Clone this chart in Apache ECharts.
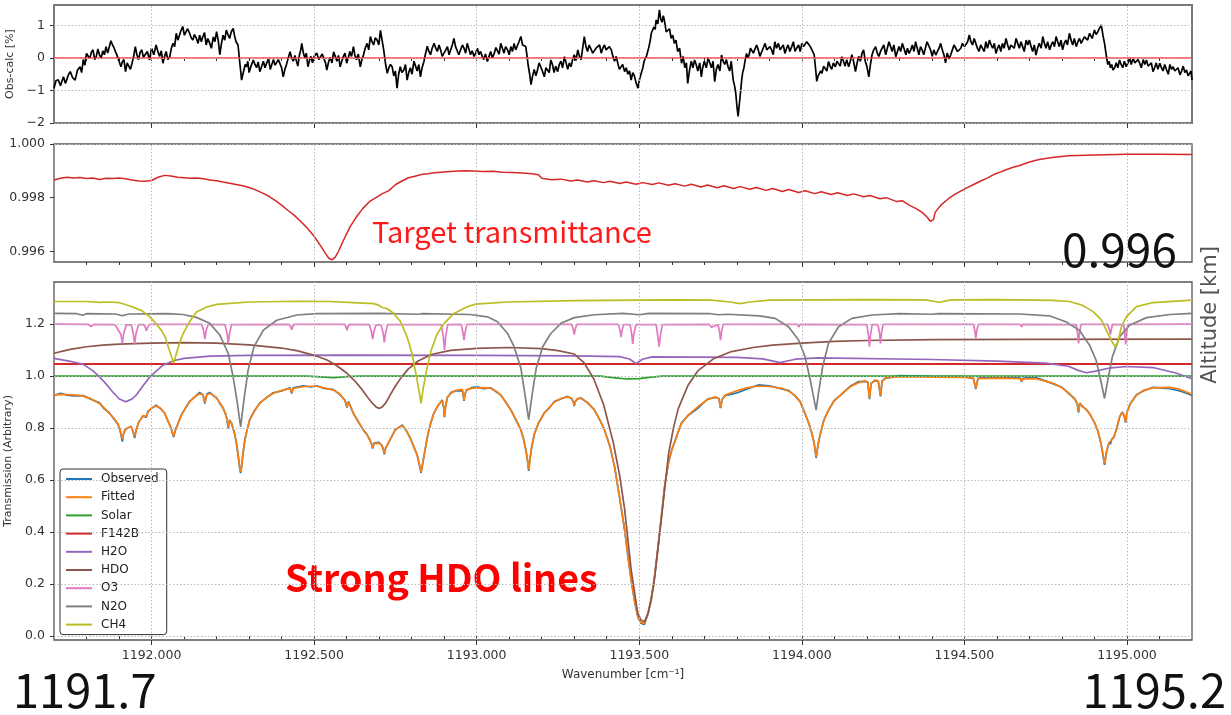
<!DOCTYPE html>
<html><head><meta charset="utf-8">
<script src="https://cdn.jsdelivr.net/npm/echarts@6/dist/echarts.min.js"></script>
<style>html,body{margin:0;padding:0;background:#fff}#c{width:1231px;height:715px}</style>
</head><body><div id="c"></div>
<script>
const xMin = 1191.7, xMax = 1195.2;
const xMajorTicks = [1192.0,1192.5,1193.0,1193.5,1194.0,1194.5,1195.0];
const xMinorTicks = [1191.8,1191.9,1192.0,1192.1,1192.2,1192.3,1192.4,1192.5,1192.6,1192.7,1192.8,1192.9,1193.0,1193.1,1193.2,1193.3,1193.4,1193.5,1193.6,1193.7,1193.8,1193.9,1194.0,1194.1,1194.2,1194.3,1194.4,1194.5,1194.6,1194.7,1194.8,1194.9,1195.0,1195.1];
const residTicks = [-2,-1,0,1];
const transTicks = [0.996,0.998,1.0];
const specTicks = [0,0.2,0.4,0.6,0.8,1.0,1.2];
const seriesNames = ['Observed','Fitted','Solar','F142B','H2O','HDO','O3','N2O','CH4'];

const residual = [[1191.700,-0.93],[1191.706,-0.70],[1191.713,-0.67],[1191.720,-0.85],[1191.729,-0.58],[1191.735,-0.78],[1191.740,-0.72],[1191.745,-0.50],[1191.750,-0.42],[1191.757,-0.60],[1191.765,-0.68],[1191.772,-0.38],[1191.780,-0.27],[1191.785,-0.45],[1191.790,-0.05],[1191.795,-0.22],[1191.800,0.14],[1191.805,0.20],[1191.810,-0.02],[1191.815,0.18],[1191.820,0.25],[1191.825,-0.05],[1191.830,0.05],[1191.835,0.28],[1191.840,0.09],[1191.845,0.00],[1191.850,0.22],[1191.855,0.10],[1191.860,0.35],[1191.865,0.15],[1191.870,0.20],[1191.875,0.53],[1191.880,0.40],[1191.885,0.30],[1191.890,0.25],[1191.895,0.05],[1191.900,-0.10],[1191.906,-0.27],[1191.910,-0.12],[1191.915,-0.05],[1191.920,-0.42],[1191.925,-0.15],[1191.930,-0.20],[1191.935,-0.35],[1191.940,-0.16],[1191.945,0.05],[1191.950,0.35],[1191.955,0.10],[1191.960,-0.05],[1191.965,0.18],[1191.970,0.25],[1191.975,0.02],[1191.980,0.00],[1191.987,0.20],[1191.994,-0.06],[1192.000,0.30],[1192.007,0.10],[1192.014,0.40],[1192.020,0.18],[1192.025,0.05],[1192.030,0.22],[1192.035,-0.16],[1192.040,0.05],[1192.045,0.20],[1192.050,-0.05],[1192.056,0.04],[1192.061,0.30],[1192.066,0.45],[1192.071,0.35],[1192.076,0.76],[1192.081,0.55],[1192.086,0.60],[1192.091,0.85],[1192.096,0.97],[1192.101,0.70],[1192.106,0.75],[1192.111,0.90],[1192.117,0.76],[1192.122,0.62],[1192.127,0.55],[1192.132,0.72],[1192.138,0.60],[1192.143,0.45],[1192.148,0.70],[1192.153,0.50],[1192.158,0.66],[1192.163,0.78],[1192.168,0.40],[1192.173,0.60],[1192.179,0.45],[1192.184,0.30],[1192.190,0.65],[1192.195,0.50],[1192.200,0.81],[1192.205,0.55],[1192.210,0.10],[1192.215,0.45],[1192.220,0.70],[1192.225,0.55],[1192.230,0.86],[1192.235,0.72],[1192.240,0.60],[1192.245,0.80],[1192.251,0.91],[1192.256,0.65],[1192.260,0.50],[1192.266,0.40],[1192.272,-0.20],[1192.277,-0.68],[1192.281,-0.50],[1192.285,-0.45],[1192.288,-0.20],[1192.292,-0.27],[1192.296,-0.10],[1192.300,-0.45],[1192.306,-0.25],[1192.313,-0.06],[1192.318,-0.20],[1192.323,-0.30],[1192.328,-0.12],[1192.333,-0.42],[1192.338,-0.28],[1192.344,-0.10],[1192.349,-0.30],[1192.354,-0.16],[1192.360,-0.02],[1192.365,-0.35],[1192.370,-0.20],[1192.375,-0.05],[1192.380,-0.22],[1192.385,-0.27],[1192.390,-0.05],[1192.395,-0.10],[1192.400,-0.30],[1192.405,-0.58],[1192.410,-0.35],[1192.415,-0.20],[1192.420,-0.02],[1192.426,0.19],[1192.431,0.00],[1192.436,-0.10],[1192.441,0.08],[1192.446,-0.11],[1192.450,-0.25],[1192.455,0.10],[1192.459,0.25],[1192.462,0.45],[1192.467,0.15],[1192.472,0.00],[1192.476,0.15],[1192.481,-0.27],[1192.485,-0.10],[1192.490,0.05],[1192.495,-0.15],[1192.500,0.05],[1192.508,0.15],[1192.514,-0.05],[1192.520,-0.10],[1192.525,0.12],[1192.530,0.10],[1192.535,-0.15],[1192.539,-0.37],[1192.545,-0.10],[1192.550,0.00],[1192.555,-0.15],[1192.560,0.19],[1192.565,0.05],[1192.570,-0.10],[1192.575,0.08],[1192.580,-0.27],[1192.585,-0.10],[1192.590,0.05],[1192.595,0.15],[1192.600,-0.16],[1192.605,0.00],[1192.610,0.20],[1192.615,0.05],[1192.621,0.35],[1192.625,0.10],[1192.630,-0.05],[1192.636,0.12],[1192.642,-0.27],[1192.647,-0.05],[1192.652,0.10],[1192.657,0.30],[1192.663,0.45],[1192.668,0.25],[1192.673,0.66],[1192.678,0.50],[1192.683,0.40],[1192.688,0.62],[1192.694,0.55],[1192.699,0.40],[1192.704,0.85],[1192.709,0.55],[1192.714,0.25],[1192.720,-0.20],[1192.725,-0.47],[1192.730,-0.30],[1192.735,-0.20],[1192.740,-0.27],[1192.745,-0.55],[1192.750,-0.40],[1192.755,-0.93],[1192.760,-0.50],[1192.765,-0.27],[1192.770,-0.45],[1192.776,-0.37],[1192.781,-0.20],[1192.786,-0.68],[1192.791,-0.45],[1192.796,-0.30],[1192.801,-0.50],[1192.807,-0.10],[1192.812,-0.25],[1192.817,-0.40],[1192.822,-0.20],[1192.827,-0.58],[1192.832,-0.30],[1192.838,-0.10],[1192.843,0.15],[1192.848,0.36],[1192.853,0.20],[1192.858,0.10],[1192.863,0.30],[1192.869,0.45],[1192.874,0.30],[1192.879,0.20],[1192.884,0.40],[1192.889,0.25],[1192.894,0.05],[1192.900,0.10],[1192.905,0.25],[1192.910,0.35],[1192.915,0.10],[1192.920,0.15],[1192.925,0.40],[1192.930,0.60],[1192.935,0.35],[1192.940,0.30],[1192.945,0.10],[1192.951,0.15],[1192.956,0.40],[1192.961,0.30],[1192.966,0.15],[1192.971,0.45],[1192.976,0.28],[1192.981,0.10],[1192.986,0.22],[1192.992,0.05],[1192.997,0.15],[1193.002,0.30],[1193.007,0.10],[1193.012,0.20],[1193.017,0.05],[1193.022,-0.05],[1193.027,0.12],[1193.033,-0.11],[1193.038,0.05],[1193.043,0.20],[1193.048,0.00],[1193.054,0.14],[1193.059,0.32],[1193.064,0.30],[1193.069,0.12],[1193.074,0.45],[1193.079,0.30],[1193.084,0.15],[1193.089,0.35],[1193.095,0.25],[1193.100,0.10],[1193.105,0.35],[1193.110,0.20],[1193.115,0.45],[1193.120,0.25],[1193.125,0.30],[1193.130,0.50],[1193.136,0.66],[1193.141,0.40],[1193.146,0.45],[1193.151,0.35],[1193.155,0.05],[1193.158,-0.20],[1193.163,-0.50],[1193.167,-0.82],[1193.172,-0.55],[1193.177,-0.35],[1193.182,-0.55],[1193.187,-0.37],[1193.192,-0.15],[1193.197,-0.20],[1193.202,-0.40],[1193.208,-0.58],[1193.213,-0.30],[1193.218,-0.25],[1193.223,-0.45],[1193.228,-0.06],[1193.233,-0.20],[1193.238,-0.45],[1193.243,-0.25],[1193.249,-0.42],[1193.254,-0.20],[1193.259,-0.10],[1193.264,-0.30],[1193.270,0.04],[1193.275,-0.15],[1193.280,-0.35],[1193.285,-0.15],[1193.290,-0.27],[1193.295,-0.05],[1193.300,0.10],[1193.305,-0.08],[1193.311,0.25],[1193.316,0.05],[1193.321,-0.05],[1193.326,0.30],[1193.331,0.66],[1193.336,0.35],[1193.341,0.20],[1193.346,0.40],[1193.352,0.35],[1193.357,0.15],[1193.362,0.10],[1193.367,0.30],[1193.373,0.25],[1193.378,0.40],[1193.383,0.15],[1193.388,0.30],[1193.393,0.40],[1193.398,0.25],[1193.403,0.20],[1193.408,0.35],[1193.414,0.25],[1193.419,0.05],[1193.424,-0.10],[1193.429,0.05],[1193.434,-0.16],[1193.439,-0.35],[1193.444,-0.30],[1193.449,-0.20],[1193.455,-0.42],[1193.460,-0.30],[1193.465,-0.50],[1193.470,-0.40],[1193.475,-0.68],[1193.480,-0.45],[1193.485,-0.55],[1193.490,-0.75],[1193.496,-0.93],[1193.501,-0.65],[1193.506,-0.47],[1193.511,-0.30],[1193.515,-0.10],[1193.519,-0.15],[1193.522,0.05],[1193.526,0.20],[1193.530,0.35],[1193.534,0.55],[1193.537,0.76],[1193.541,0.70],[1193.545,0.95],[1193.549,0.88],[1193.552,1.17],[1193.557,1.05],[1193.562,1.48],[1193.566,1.20],[1193.570,1.10],[1193.574,1.30],[1193.577,1.17],[1193.583,0.80],[1193.588,0.76],[1193.593,0.90],[1193.598,0.60],[1193.603,0.70],[1193.608,0.45],[1193.613,0.55],[1193.618,0.20],[1193.624,0.30],[1193.630,-0.16],[1193.635,0.05],[1193.640,-0.30],[1193.645,-0.15],[1193.649,-0.78],[1193.655,-0.35],[1193.660,-0.10],[1193.665,-0.30],[1193.670,-0.06],[1193.675,-0.20],[1193.680,-0.40],[1193.686,-0.15],[1193.691,-0.58],[1193.695,-0.30],[1193.700,-0.10],[1193.706,-0.30],[1193.712,0.00],[1193.717,-0.15],[1193.722,-0.30],[1193.727,-0.10],[1193.732,-0.73],[1193.737,-0.35],[1193.742,-0.20],[1193.748,-0.40],[1193.753,0.09],[1193.758,-0.10],[1193.763,-0.20],[1193.768,-0.05],[1193.773,-0.27],[1193.778,-0.40],[1193.783,-0.10],[1193.789,-0.68],[1193.793,-0.85],[1193.797,-1.10],[1193.800,-1.45],[1193.804,-1.80],[1193.807,-1.50],[1193.810,-1.20],[1193.815,-0.68],[1193.818,-0.45],[1193.822,-0.30],[1193.826,-0.05],[1193.830,0.14],[1193.834,0.00],[1193.838,0.10],[1193.842,0.30],[1193.846,0.35],[1193.851,0.15],[1193.856,0.20],[1193.861,0.40],[1193.866,0.25],[1193.871,0.05],[1193.876,0.10],[1193.881,0.30],[1193.887,0.45],[1193.892,0.25],[1193.897,0.20],[1193.902,0.35],[1193.907,0.25],[1193.912,0.10],[1193.917,0.50],[1193.922,0.30],[1193.928,0.45],[1193.933,0.25],[1193.938,0.20],[1193.943,0.40],[1193.948,0.14],[1193.953,0.30],[1193.958,0.40],[1193.963,0.20],[1193.969,0.35],[1193.974,0.50],[1193.979,0.20],[1193.984,0.30],[1193.990,0.40],[1193.995,0.20],[1194.000,0.45],[1194.005,0.35],[1194.010,0.30],[1194.015,0.50],[1194.020,0.55],[1194.026,0.35],[1194.031,0.25],[1194.035,0.30],[1194.038,0.10],[1194.042,-0.30],[1194.046,-0.72],[1194.050,-0.55],[1194.054,-0.60],[1194.058,-0.40],[1194.062,-0.47],[1194.067,-0.25],[1194.072,-0.20],[1194.077,-0.40],[1194.082,-0.11],[1194.087,-0.25],[1194.092,-0.35],[1194.097,-0.15],[1194.103,-0.27],[1194.108,-0.10],[1194.113,-0.05],[1194.118,-0.25],[1194.123,0.04],[1194.128,-0.10],[1194.133,-0.25],[1194.138,-0.05],[1194.144,-0.27],[1194.149,-0.10],[1194.154,0.10],[1194.159,-0.10],[1194.165,-0.42],[1194.170,-0.15],[1194.175,0.05],[1194.180,-0.10],[1194.185,0.14],[1194.190,0.25],[1194.195,-0.10],[1194.200,-0.25],[1194.206,-0.58],[1194.211,-0.20],[1194.216,0.10],[1194.221,0.25],[1194.227,0.35],[1194.232,0.15],[1194.237,0.05],[1194.242,0.20],[1194.247,0.25],[1194.252,0.40],[1194.258,0.10],[1194.263,0.30],[1194.268,0.50],[1194.273,0.35],[1194.278,0.20],[1194.283,0.40],[1194.289,0.04],[1194.294,0.20],[1194.299,0.35],[1194.304,0.20],[1194.309,0.45],[1194.314,0.30],[1194.320,0.10],[1194.325,0.30],[1194.330,0.14],[1194.335,0.25],[1194.340,0.40],[1194.345,0.20],[1194.350,0.50],[1194.355,0.30],[1194.360,0.10],[1194.365,0.35],[1194.370,0.25],[1194.375,0.10],[1194.380,0.30],[1194.385,0.50],[1194.391,0.45],[1194.396,0.25],[1194.401,0.05],[1194.406,0.25],[1194.412,0.09],[1194.417,0.20],[1194.422,0.30],[1194.427,0.45],[1194.432,0.25],[1194.437,0.10],[1194.442,-0.15],[1194.447,0.15],[1194.453,-0.03],[1194.458,0.10],[1194.463,0.25],[1194.468,0.40],[1194.474,0.35],[1194.479,0.20],[1194.484,0.15],[1194.489,0.30],[1194.494,0.45],[1194.500,0.35],[1194.505,0.30],[1194.510,0.50],[1194.515,0.71],[1194.520,0.50],[1194.525,0.40],[1194.530,0.60],[1194.535,0.45],[1194.540,0.30],[1194.545,0.20],[1194.550,0.40],[1194.556,0.35],[1194.561,0.20],[1194.566,0.50],[1194.571,0.30],[1194.577,0.55],[1194.582,0.40],[1194.587,0.30],[1194.592,0.45],[1194.597,0.14],[1194.602,0.30],[1194.607,0.40],[1194.612,0.20],[1194.617,0.45],[1194.622,0.30],[1194.628,0.60],[1194.633,0.40],[1194.638,0.25],[1194.643,0.40],[1194.648,0.45],[1194.653,0.30],[1194.659,0.60],[1194.664,0.45],[1194.669,0.30],[1194.674,0.50],[1194.679,0.35],[1194.684,0.20],[1194.690,0.55],[1194.695,0.40],[1194.700,0.55],[1194.705,0.35],[1194.710,0.20],[1194.715,0.40],[1194.720,0.09],[1194.725,0.30],[1194.730,0.45],[1194.736,0.30],[1194.741,0.66],[1194.746,0.45],[1194.751,0.30],[1194.756,0.50],[1194.762,0.25],[1194.767,0.40],[1194.772,0.50],[1194.777,0.35],[1194.782,0.66],[1194.787,0.50],[1194.792,0.35],[1194.797,0.55],[1194.802,0.25],[1194.807,0.45],[1194.812,0.55],[1194.817,0.40],[1194.823,0.76],[1194.828,0.55],[1194.833,0.40],[1194.838,0.60],[1194.844,0.35],[1194.849,0.50],[1194.854,0.60],[1194.859,0.45],[1194.864,0.50],[1194.869,0.65],[1194.874,0.70],[1194.879,0.55],[1194.885,0.76],[1194.889,0.70],[1194.893,0.60],[1194.897,0.75],[1194.900,0.86],[1194.905,0.72],[1194.910,0.80],[1194.915,0.90],[1194.921,1.02],[1194.926,0.70],[1194.931,0.45],[1194.936,0.10],[1194.941,-0.20],[1194.945,-0.10],[1194.949,-0.30],[1194.953,-0.20],[1194.957,-0.37],[1194.962,-0.30],[1194.967,-0.15],[1194.972,-0.30],[1194.977,-0.06],[1194.982,-0.20],[1194.987,-0.30],[1194.992,-0.10],[1194.998,-0.27],[1195.003,-0.15],[1195.008,0.00],[1195.013,-0.20],[1195.019,-0.01],[1195.024,-0.15],[1195.029,-0.20],[1195.034,-0.05],[1195.039,-0.16],[1195.044,-0.30],[1195.050,-0.05],[1195.055,-0.20],[1195.060,-0.06],[1195.065,-0.25],[1195.070,-0.30],[1195.075,-0.15],[1195.080,-0.42],[1195.085,-0.30],[1195.090,-0.15],[1195.095,-0.35],[1195.101,-0.16],[1195.106,-0.30],[1195.111,-0.40],[1195.116,-0.20],[1195.122,-0.37],[1195.127,-0.50],[1195.132,-0.20],[1195.137,-0.35],[1195.142,-0.27],[1195.147,-0.40],[1195.152,-0.45],[1195.157,-0.30],[1195.163,-0.52],[1195.168,-0.40],[1195.173,-0.25],[1195.178,-0.45],[1195.183,-0.37],[1195.188,-0.55],[1195.193,-0.50],[1195.197,-0.40],[1195.200,-0.68]];
const zeroLine = [[1191.7,0],[1195.2,0]];

const targetTrans = [[1191.70,0.99866],[1191.72,0.99872],[1191.74,0.99876],[1191.76,0.99873],[1191.78,0.99875],[1191.80,0.99871],[1191.82,0.99873],[1191.84,0.99868],[1191.86,0.99872],[1191.88,0.99871],[1191.90,0.99873],[1191.92,0.99870],[1191.94,0.99866],[1191.96,0.99862],[1191.98,0.99861],[1192.00,0.99864],[1192.02,0.99876],[1192.04,0.99883],[1192.06,0.99881],[1192.08,0.99876],[1192.10,0.99874],[1192.12,0.99872],[1192.14,0.99873],[1192.16,0.99870],[1192.18,0.99866],[1192.20,0.99863],[1192.22,0.99858],[1192.24,0.99854],[1192.26,0.99849],[1192.28,0.99844],[1192.30,0.99838],[1192.32,0.99829],[1192.34,0.99818],[1192.36,0.99806],[1192.38,0.99790],[1192.40,0.99772],[1192.42,0.99752],[1192.44,0.99733],[1192.46,0.99710],[1192.48,0.99685],[1192.50,0.99656],[1192.52,0.99620],[1192.535,0.99592],[1192.545,0.99574],[1192.555,0.99568],[1192.565,0.99578],[1192.575,0.99600],[1192.59,0.99640],[1192.61,0.99690],[1192.63,0.99728],[1192.65,0.99760],[1192.67,0.99785],[1192.69,0.99800],[1192.71,0.99815],[1192.73,0.99826],[1192.75,0.99848],[1192.77,0.99862],[1192.79,0.99874],[1192.81,0.99880],[1192.83,0.99886],[1192.85,0.99889],[1192.87,0.99893],[1192.90,0.99896],[1192.93,0.99898],[1192.96,0.99900],[1192.99,0.99899],[1193.02,0.99897],[1193.05,0.99898],[1193.08,0.99895],[1193.11,0.99894],[1193.14,0.99892],[1193.17,0.99889],[1193.19,0.99885],[1193.20,0.99872],[1193.23,0.99867],[1193.26,0.99869],[1193.29,0.99862],[1193.31,0.99866],[1193.34,0.99858],[1193.36,0.99863],[1193.39,0.99856],[1193.41,0.99861],[1193.44,0.99853],[1193.46,0.99858],[1193.49,0.99850],[1193.51,0.99856],[1193.54,0.99849],[1193.56,0.99855],[1193.59,0.99846],[1193.61,0.99852],[1193.64,0.99843],[1193.66,0.99850],[1193.69,0.99840],[1193.71,0.99847],[1193.74,0.99837],[1193.76,0.99844],[1193.79,0.99834],[1193.81,0.99841],[1193.84,0.99831],[1193.86,0.99838],[1193.89,0.99827],[1193.91,0.99834],[1193.94,0.99823],[1193.96,0.99830],[1193.99,0.99819],[1194.01,0.99826],[1194.04,0.99815],[1194.06,0.99822],[1194.09,0.99812],[1194.11,0.99818],[1194.14,0.99808],[1194.16,0.99814],[1194.19,0.99803],[1194.21,0.99808],[1194.24,0.99796],[1194.26,0.99800],[1194.29,0.99786],[1194.31,0.99788],[1194.33,0.99772],[1194.35,0.99760],[1194.37,0.99745],[1194.385,0.99728],[1194.395,0.99712],[1194.40,0.99705],[1194.405,0.99718],[1194.41,0.99745],[1194.43,0.99775],[1194.45,0.99795],[1194.47,0.99812],[1194.49,0.99825],[1194.51,0.99838],[1194.53,0.99850],[1194.55,0.99862],[1194.57,0.99873],[1194.59,0.99886],[1194.61,0.99895],[1194.63,0.99905],[1194.65,0.99913],[1194.67,0.99920],[1194.70,0.99933],[1194.73,0.99942],[1194.77,0.99950],[1194.82,0.99956],[1194.90,0.99959],[1195.00,0.99962],[1195.10,0.99962],[1195.20,0.99961]];

const fitted = [[1191.70,0.927],[1191.72,0.930],[1191.74,0.929],[1191.76,0.928],[1191.79,0.923],[1191.81,0.915],[1191.84,0.895],[1191.855,0.877],[1191.87,0.857],[1191.885,0.837],[1191.896,0.818],[1191.902,0.800],[1191.906,0.780],[1191.91,0.758],[1191.914,0.780],[1191.92,0.795],[1191.93,0.803],[1191.937,0.805],[1191.943,0.790],[1191.948,0.768],[1191.953,0.795],[1191.96,0.820],[1191.973,0.848],[1191.979,0.850],[1191.984,0.845],[1191.989,0.862],[1192.00,0.878],[1192.014,0.885],[1192.028,0.876],[1192.04,0.857],[1192.05,0.830],[1192.058,0.805],[1192.064,0.785],[1192.068,0.770],[1192.073,0.790],[1192.08,0.815],[1192.092,0.850],[1192.105,0.880],[1192.117,0.900],[1192.13,0.918],[1192.148,0.932],[1192.158,0.930],[1192.164,0.898],[1192.17,0.928],[1192.179,0.933],[1192.19,0.927],[1192.20,0.915],[1192.21,0.898],[1192.22,0.876],[1192.228,0.855],[1192.232,0.835],[1192.236,0.805],[1192.24,0.830],[1192.246,0.820],[1192.255,0.780],[1192.261,0.745],[1192.267,0.690],[1192.271,0.650],[1192.274,0.632],[1192.277,0.650],[1192.281,0.700],[1192.287,0.754],[1192.295,0.800],[1192.302,0.831],[1192.315,0.865],[1192.333,0.895],[1192.355,0.920],[1192.374,0.933],[1192.40,0.945],[1192.426,0.952],[1192.431,0.936],[1192.436,0.953],[1192.467,0.959],[1192.49,0.961],[1192.508,0.961],[1192.53,0.955],[1192.56,0.946],[1192.58,0.930],[1192.595,0.905],[1192.601,0.882],[1192.606,0.900],[1192.62,0.860],[1192.632,0.831],[1192.65,0.797],[1192.663,0.773],[1192.672,0.755],[1192.676,0.740],[1192.68,0.725],[1192.684,0.740],[1192.69,0.745],[1192.70,0.742],[1192.708,0.735],[1192.712,0.720],[1192.716,0.703],[1192.72,0.722],[1192.73,0.748],[1192.75,0.792],[1192.762,0.805],[1192.771,0.809],[1192.782,0.795],[1192.796,0.760],[1192.808,0.725],[1192.817,0.695],[1192.823,0.665],[1192.829,0.632],[1192.835,0.670],[1192.843,0.730],[1192.85,0.775],[1192.858,0.818],[1192.868,0.855],[1192.879,0.885],[1192.894,0.905],[1192.898,0.885],[1192.901,0.845],[1192.904,0.880],[1192.91,0.920],[1192.922,0.935],[1192.935,0.945],[1192.956,0.949],[1192.958,0.935],[1192.961,0.908],[1192.964,0.930],[1192.969,0.948],[1192.985,0.953],[1193.002,0.955],[1193.02,0.956],[1193.043,0.953],[1193.06,0.942],[1193.074,0.926],[1193.09,0.900],[1193.105,0.869],[1193.12,0.835],[1193.136,0.792],[1193.145,0.755],[1193.152,0.710],[1193.157,0.670],[1193.16,0.640],[1193.163,0.670],[1193.168,0.720],[1193.177,0.775],[1193.19,0.820],[1193.208,0.857],[1193.225,0.882],[1193.239,0.900],[1193.26,0.915],[1193.28,0.920],[1193.292,0.915],[1193.297,0.900],[1193.30,0.888],[1193.303,0.900],[1193.31,0.914],[1193.321,0.914],[1193.34,0.900],[1193.362,0.869],[1193.38,0.830],[1193.393,0.792],[1193.41,0.730],[1193.424,0.651],[1193.44,0.530],[1193.455,0.408],[1193.465,0.310],[1193.475,0.215],[1193.485,0.140],[1193.496,0.074],[1193.505,0.053],[1193.516,0.049],[1193.527,0.090],[1193.537,0.138],[1193.548,0.240],[1193.558,0.343],[1193.568,0.460],[1193.578,0.574],[1193.59,0.670],[1193.60,0.715],[1193.615,0.770],[1193.63,0.818],[1193.65,0.850],[1193.68,0.882],[1193.71,0.910],[1193.735,0.920],[1193.745,0.912],[1193.75,0.880],[1193.755,0.910],[1193.765,0.928],[1193.785,0.937],[1193.804,0.945],[1193.83,0.955],[1193.866,0.962],[1193.90,0.960],[1193.938,0.953],[1193.96,0.942],[1193.979,0.926],[1193.995,0.900],[1194.01,0.857],[1194.022,0.815],[1194.031,0.780],[1194.038,0.740],[1194.044,0.690],[1194.05,0.735],[1194.056,0.775],[1194.068,0.830],[1194.082,0.870],[1194.10,0.905],[1194.123,0.933],[1194.15,0.960],[1194.175,0.975],[1194.195,0.982],[1194.203,0.975],[1194.208,0.914],[1194.213,0.970],[1194.225,0.985],[1194.235,0.980],[1194.242,0.926],[1194.247,0.980],[1194.257,0.993],[1194.30,0.998],[1194.40,0.996],[1194.50,0.995],[1194.528,0.992],[1194.535,0.953],[1194.542,0.990],[1194.60,0.992],[1194.672,0.990],[1194.676,0.980],[1194.68,0.989],[1194.72,0.990],[1194.772,0.973],[1194.80,0.955],[1194.823,0.933],[1194.84,0.910],[1194.847,0.895],[1194.851,0.863],[1194.855,0.895],[1194.863,0.885],[1194.875,0.870],[1194.885,0.857],[1194.90,0.820],[1194.91,0.792],[1194.92,0.740],[1194.926,0.700],[1194.931,0.664],[1194.936,0.700],[1194.941,0.730],[1194.946,0.745],[1194.949,0.740],[1194.953,0.755],[1194.96,0.767],[1194.97,0.805],[1194.977,0.843],[1194.985,0.860],[1194.991,0.850],[1194.996,0.824],[1195.00,0.860],[1195.01,0.895],[1195.029,0.926],[1195.05,0.945],[1195.08,0.955],[1195.132,0.957],[1195.16,0.950],[1195.183,0.939],[1195.20,0.930]];

const observed = [[1191.70,0.925],[1191.72,0.934],[1191.74,0.927],[1191.76,0.924],[1191.79,0.925],[1191.81,0.913],[1191.84,0.897],[1191.855,0.874],[1191.87,0.859],[1191.885,0.834],[1191.896,0.816],[1191.902,0.797],[1191.906,0.774],[1191.91,0.748],[1191.914,0.778],[1191.92,0.797],[1191.93,0.801],[1191.937,0.807],[1191.943,0.787],[1191.948,0.762],[1191.953,0.793],[1191.96,0.822],[1191.973,0.846],[1191.979,0.852],[1191.984,0.842],[1191.989,0.864],[1192.00,0.876],[1192.014,0.888],[1192.028,0.874],[1192.04,0.859],[1192.05,0.828],[1192.058,0.807],[1192.064,0.782],[1192.068,0.766],[1192.073,0.792],[1192.08,0.813],[1192.092,0.852],[1192.105,0.878],[1192.117,0.903],[1192.13,0.916],[1192.148,0.937],[1192.158,0.928],[1192.164,0.894],[1192.17,0.931],[1192.179,0.937],[1192.19,0.925],[1192.20,0.917],[1192.21,0.895],[1192.22,0.878],[1192.228,0.852],[1192.232,0.832],[1192.236,0.799],[1192.24,0.832],[1192.246,0.818],[1192.255,0.782],[1192.261,0.742],[1192.267,0.688],[1192.271,0.648],[1192.274,0.627],[1192.277,0.652],[1192.281,0.698],[1192.287,0.756],[1192.295,0.798],[1192.302,0.833],[1192.315,0.863],[1192.333,0.897],[1192.355,0.918],[1192.374,0.936],[1192.40,0.943],[1192.426,0.955],[1192.431,0.933],[1192.436,0.955],[1192.467,0.963],[1192.49,0.958],[1192.508,0.963],[1192.53,0.953],[1192.56,0.948],[1192.58,0.928],[1192.595,0.907],[1192.601,0.879],[1192.606,0.902],[1192.62,0.858],[1192.632,0.833],[1192.65,0.795],[1192.663,0.775],[1192.672,0.752],[1192.676,0.742],[1192.68,0.721],[1192.684,0.742],[1192.69,0.743],[1192.70,0.745],[1192.708,0.733],[1192.712,0.722],[1192.716,0.699],[1192.72,0.724],[1192.73,0.746],[1192.75,0.795],[1192.762,0.803],[1192.771,0.812],[1192.782,0.793],[1192.796,0.762],[1192.808,0.723],[1192.817,0.697],[1192.823,0.662],[1192.829,0.628],[1192.835,0.672],[1192.843,0.728],[1192.85,0.777],[1192.858,0.816],[1192.868,0.857],[1192.879,0.882],[1192.894,0.908],[1192.898,0.883],[1192.901,0.842],[1192.904,0.882],[1192.91,0.918],[1192.922,0.938],[1192.935,0.943],[1192.956,0.944],[1192.958,0.933],[1192.961,0.905],[1192.964,0.932],[1192.969,0.946],[1192.985,0.956],[1193.002,0.959],[1193.02,0.952],[1193.043,0.955],[1193.06,0.940],[1193.074,0.928],[1193.09,0.898],[1193.105,0.871],[1193.12,0.833],[1193.136,0.794],[1193.145,0.753],[1193.152,0.712],[1193.157,0.668],[1193.16,0.635],[1193.163,0.672],[1193.168,0.718],[1193.177,0.777],[1193.19,0.818],[1193.208,0.859],[1193.225,0.880],[1193.239,0.902],[1193.26,0.913],[1193.28,0.922],[1193.292,0.913],[1193.297,0.902],[1193.30,0.885],[1193.303,0.902],[1193.31,0.912],[1193.321,0.916],[1193.34,0.898],[1193.362,0.871],[1193.38,0.828],[1193.393,0.794],[1193.41,0.728],[1193.424,0.653],[1193.44,0.528],[1193.455,0.410],[1193.465,0.308],[1193.475,0.217],[1193.485,0.138],[1193.496,0.072],[1193.505,0.050],[1193.516,0.045],[1193.527,0.088],[1193.537,0.140],[1193.548,0.238],[1193.558,0.345],[1193.568,0.458],[1193.578,0.576],[1193.59,0.668],[1193.60,0.717],[1193.615,0.768],[1193.63,0.820],[1193.65,0.848],[1193.68,0.876],[1193.71,0.912],[1193.735,0.918],[1193.745,0.914],[1193.75,0.877],[1193.755,0.912],[1193.765,0.926],[1193.785,0.931],[1193.804,0.937],[1193.83,0.950],[1193.866,0.966],[1193.90,0.963],[1193.938,0.951],[1193.96,0.944],[1193.979,0.924],[1193.995,0.902],[1194.01,0.855],[1194.022,0.817],[1194.031,0.778],[1194.038,0.742],[1194.044,0.685],[1194.05,0.737],[1194.056,0.773],[1194.068,0.832],[1194.082,0.868],[1194.10,0.907],[1194.123,0.931],[1194.15,0.962],[1194.175,0.979],[1194.195,0.980],[1194.203,0.977],[1194.208,0.911],[1194.213,0.972],[1194.225,0.983],[1194.235,0.982],[1194.242,0.922],[1194.247,0.982],[1194.257,0.991],[1194.30,1.002],[1194.40,0.999],[1194.50,0.998],[1194.528,0.990],[1194.535,0.950],[1194.542,0.992],[1194.60,0.996],[1194.672,0.993],[1194.676,0.978],[1194.68,0.992],[1194.72,0.994],[1194.772,0.971],[1194.80,0.957],[1194.823,0.931],[1194.84,0.912],[1194.847,0.893],[1194.851,0.860],[1194.855,0.897],[1194.863,0.883],[1194.875,0.872],[1194.885,0.855],[1194.90,0.822],[1194.91,0.790],[1194.92,0.742],[1194.926,0.698],[1194.931,0.659],[1194.936,0.702],[1194.941,0.728],[1194.946,0.747],[1194.949,0.738],[1194.953,0.757],[1194.96,0.765],[1194.97,0.807],[1194.977,0.841],[1194.985,0.862],[1194.991,0.848],[1194.996,0.821],[1195.00,0.862],[1195.01,0.893],[1195.029,0.928],[1195.05,0.943],[1195.08,0.957],[1195.132,0.952],[1195.16,0.944],[1195.183,0.934],[1195.20,0.926]];

const solar = [[1191.70,1.0],[1192.48,1.0],[1192.52,0.997],[1192.56,0.994],[1192.60,0.998],[1192.64,1.0],[1193.38,1.0],[1193.42,0.994],[1193.46,0.989],[1193.50,0.990],[1193.53,0.995],[1193.57,1.0],[1195.20,1.0]];
const f142b = [[1191.70,1.047],[1195.20,1.047]];
const h2o = [[1191.70,1.068],[1191.75,1.057],[1191.79,1.045],[1191.82,1.020],[1191.84,0.997],[1191.86,0.970],[1191.88,0.940],[1191.90,0.913],[1191.92,0.901],[1191.94,0.912],[1191.955,0.930],[1191.975,0.965],[1191.995,0.997],[1192.035,1.042],[1192.07,1.060],[1192.10,1.068],[1192.18,1.077],[1192.30,1.080],[1192.60,1.081],[1193.00,1.080],[1193.30,1.078],[1193.44,1.075],[1193.47,1.066],[1193.49,1.048],[1193.51,1.065],[1193.54,1.074],[1193.80,1.072],[1193.88,1.066],[1193.933,1.052],[1193.98,1.065],[1194.05,1.070],[1194.40,1.064],[1194.60,1.058],[1194.75,1.050],[1194.82,1.038],[1194.85,1.022],[1194.875,1.013],[1194.90,1.018],[1194.95,1.032],[1195.00,1.037],[1195.08,1.033],[1195.15,1.012],[1195.20,0.990]];
const hdo = [[1191.70,1.088],[1191.75,1.103],[1191.80,1.113],[1191.85,1.119],[1191.90,1.123],[1192.00,1.127],[1192.10,1.129],[1192.20,1.127],[1192.30,1.120],[1192.40,1.108],[1192.45,1.097],[1192.50,1.080],[1192.54,1.062],[1192.57,1.040],[1192.60,1.012],[1192.625,0.982],[1192.645,0.952],[1192.665,0.918],[1192.68,0.895],[1192.692,0.880],[1192.70,0.876],[1192.708,0.880],[1192.72,0.896],[1192.735,0.930],[1192.75,0.962],[1192.77,0.998],[1192.79,1.028],[1192.82,1.058],[1192.86,1.083],[1192.92,1.099],[1193.00,1.107],[1193.10,1.110],[1193.20,1.106],[1193.25,1.098],[1193.30,1.085],[1193.33,1.052],[1193.36,0.990],[1193.39,0.892],[1193.42,0.745],[1193.44,0.615],[1193.455,0.488],[1193.475,0.256],[1193.495,0.090],[1193.505,0.062],[1193.516,0.055],[1193.528,0.090],[1193.545,0.200],[1193.558,0.343],[1193.575,0.530],[1193.59,0.700],[1193.605,0.800],[1193.62,0.875],[1193.65,0.965],[1193.68,1.020],[1193.73,1.068],[1193.78,1.093],[1193.85,1.110],[1193.91,1.119],[1194.00,1.127],[1194.10,1.134],[1194.20,1.137],[1194.40,1.140],[1194.70,1.141],[1195.20,1.142]];
const o3 = [[1191.70,1.2],[1191.806,1.199],[1191.814,1.19],[1191.822,1.199],[1191.886,1.198],[1191.892,1.19],[1191.896,1.18],[1191.901,1.185],[1191.906,1.16],[1191.91,1.126],[1191.914,1.162],[1191.922,1.197],[1191.938,1.197],[1191.944,1.162],[1191.948,1.124],[1191.952,1.162],[1191.96,1.198],[1191.976,1.198],[1191.981,1.188],[1191.984,1.174],[1191.988,1.188],[1191.994,1.199],[1192.154,1.199],[1192.16,1.175],[1192.164,1.142],[1192.168,1.175],[1192.174,1.199],[1192.226,1.198],[1192.232,1.165],[1192.236,1.126],[1192.24,1.165],[1192.246,1.198],[1192.424,1.199],[1192.428,1.19],[1192.431,1.178],[1192.434,1.19],[1192.438,1.199],[1192.594,1.199],[1192.598,1.19],[1192.601,1.176],[1192.604,1.19],[1192.608,1.199],[1192.67,1.198],[1192.676,1.172],[1192.68,1.142],[1192.684,1.172],[1192.69,1.197],[1192.706,1.197],[1192.712,1.168],[1192.716,1.13],[1192.72,1.168],[1192.726,1.198],[1192.891,1.198],[1192.897,1.155],[1192.901,1.10],[1192.905,1.155],[1192.911,1.198],[1192.953,1.199],[1192.957,1.172],[1192.961,1.138],[1192.965,1.172],[1192.97,1.199],[1193.292,1.199],[1193.297,1.18],[1193.30,1.16],[1193.303,1.18],[1193.308,1.199],[1193.436,1.199],[1193.441,1.175],[1193.444,1.15],[1193.447,1.175],[1193.452,1.198],[1193.472,1.198],[1193.477,1.16],[1193.48,1.124],[1193.483,1.16],[1193.49,1.198],[1193.552,1.198],[1193.557,1.155],[1193.561,1.113],[1193.565,1.155],[1193.571,1.198],[1193.716,1.199],[1193.72,1.192],[1193.722,1.188],[1193.725,1.195],[1193.742,1.198],[1193.747,1.17],[1193.75,1.138],[1193.753,1.17],[1193.758,1.199],[1193.986,1.199],[1193.989,1.192],[1193.991,1.189],[1193.994,1.199],[1194.20,1.198],[1194.205,1.155],[1194.208,1.113],[1194.211,1.155],[1194.216,1.198],[1194.234,1.198],[1194.239,1.165],[1194.242,1.126],[1194.245,1.165],[1194.25,1.199],[1194.528,1.199],[1194.532,1.175],[1194.535,1.146],[1194.538,1.175],[1194.543,1.199],[1194.672,1.199],[1194.676,1.19],[1194.68,1.199],[1194.844,1.198],[1194.848,1.165],[1194.851,1.126],[1194.854,1.165],[1194.859,1.199],[1194.93,1.199],[1194.935,1.196],[1194.94,1.199],[1194.943,1.199],[1194.946,1.18],[1194.949,1.16],[1194.952,1.18],[1194.956,1.199],[1194.99,1.198],[1194.993,1.165],[1194.996,1.122],[1194.999,1.165],[1195.003,1.199],[1195.20,1.2]];
const n2o = [[1191.70,1.241],[1191.77,1.240],[1191.788,1.234],[1191.80,1.240],[1191.89,1.239],[1191.91,1.232],[1191.93,1.239],[1192.05,1.240],[1192.097,1.237],[1192.138,1.226],[1192.179,1.203],[1192.21,1.158],[1192.236,1.087],[1192.251,0.997],[1192.264,0.895],[1192.274,0.805],[1192.284,0.908],[1192.297,1.023],[1192.315,1.113],[1192.344,1.177],[1192.385,1.215],[1192.447,1.235],[1192.508,1.240],[1192.70,1.241],[1192.82,1.238],[1192.83,1.240],[1192.98,1.237],[1193.033,1.228],[1193.064,1.209],[1193.095,1.164],[1193.115,1.113],[1193.136,1.030],[1193.148,0.933],[1193.16,0.833],[1193.171,0.933],[1193.183,1.030],[1193.203,1.113],[1193.228,1.164],[1193.259,1.203],[1193.30,1.225],[1193.362,1.236],[1193.45,1.241],[1193.50,1.236],[1193.53,1.241],[1193.72,1.240],[1193.743,1.236],[1193.77,1.238],[1193.87,1.232],[1193.918,1.222],[1193.959,1.190],[1193.99,1.139],[1194.01,1.074],[1194.026,0.985],[1194.036,0.920],[1194.044,0.869],[1194.051,0.933],[1194.064,1.036],[1194.082,1.126],[1194.113,1.190],[1194.154,1.222],[1194.216,1.235],[1194.30,1.240],[1194.40,1.238],[1194.42,1.240],[1194.67,1.239],[1194.761,1.232],[1194.812,1.209],[1194.853,1.177],[1194.885,1.119],[1194.905,1.061],[1194.919,0.985],[1194.931,0.914],[1194.941,0.985],[1194.955,1.074],[1194.977,1.151],[1195.008,1.196],[1195.06,1.225],[1195.132,1.237],[1195.20,1.241]];
const ch4 = [[1191.70,1.287],[1191.80,1.287],[1191.84,1.284],[1191.87,1.285],[1191.90,1.283],[1191.94,1.267],[1191.97,1.252],[1191.995,1.228],[1192.015,1.200],[1192.03,1.177],[1192.042,1.150],[1192.052,1.110],[1192.06,1.080],[1192.068,1.050],[1192.076,1.085],[1192.086,1.126],[1192.096,1.160],[1192.104,1.180],[1192.12,1.215],[1192.138,1.247],[1192.17,1.266],[1192.20,1.276],[1192.30,1.285],[1192.45,1.288],[1192.55,1.287],[1192.62,1.283],[1192.683,1.279],[1192.70,1.272],[1192.709,1.264],[1192.724,1.260],[1192.745,1.241],[1192.766,1.209],[1192.786,1.151],[1192.801,1.087],[1192.815,0.997],[1192.823,0.940],[1192.829,0.895],[1192.835,0.950],[1192.846,1.023],[1192.86,1.100],[1192.879,1.164],[1192.90,1.203],[1192.93,1.241],[1192.971,1.267],[1192.997,1.277],[1193.00,1.281],[1193.095,1.285],[1193.30,1.290],[1193.60,1.293],[1193.72,1.292],[1193.78,1.285],[1193.809,1.279],[1193.84,1.285],[1193.90,1.292],[1194.20,1.294],[1194.38,1.293],[1194.423,1.284],[1194.46,1.293],[1194.60,1.294],[1194.772,1.291],[1194.823,1.287],[1194.864,1.272],[1194.895,1.249],[1194.921,1.216],[1194.941,1.164],[1194.955,1.130],[1194.964,1.113],[1194.972,1.130],[1194.983,1.190],[1194.998,1.228],[1195.029,1.267],[1195.08,1.283],[1195.20,1.292]];

const specData = [observed, fitted, solar, f142b, h2o, hdo, o3, n2o, ch4];
const specColors = ['#1f77b4','#ff7f0e','#2ca02c','#d62728','#9467bd','#8c564b','#e377c2','#7f7f7f','#bcbd22'];

const FONT = 'DejaVu Sans';
const gridDefs = [
  {left:54, top:5, width:1138, height:118, show:true, borderColor:'#7a7a7a', borderWidth:2, backgroundColor:'transparent', outerBoundsMode:'none', containLabel:false},
  {left:54, top:144, width:1138, height:118, show:true, borderColor:'#555', borderWidth:1.3, backgroundColor:'transparent', outerBoundsMode:'none', containLabel:false},
  {left:54, top:282, width:1138, height:358, show:true, borderColor:'#555', borderWidth:1.3, backgroundColor:'transparent', outerBoundsMode:'none', containLabel:false}
];
const yRanges = [[-2,1.63],[0.9956,1.0],[-0.015,1.362]];
const yTicks = [residTicks, transTicks, specTicks];
const yFmt = [
  v => v < 0 ? '\u2212' + Math.abs(v) : String(v),
  v => v.toFixed(3),
  v => v.toFixed(1)
];
const yNames = ['Obs-calc [%]', '', 'Transmission (Arbitrary)'];
const yNameGaps = [37, 37, 40];

const xAxes = [], yAxes = [];
for (let g = 0; g < 3; g++) {
  xAxes.push({type:'value', gridIndex:g, min:xMin, max:xMax,
    axisLine:{show:false},
    axisTick:{show:true, customValues:xMinorTicks, length:3, lineStyle:{color:'#333', width:1}},
    axisLabel:{show:false}, splitLine:{show:false}});
}
for (let g = 0; g < 3; g++) {
  xAxes.push({type:'value', gridIndex:g, min:xMin, max:xMax, position:'bottom',
    axisLine:{show:false},
    axisTick:{show:true, customValues:xMajorTicks, length:5, lineStyle:{color:'#333', width:1}},
    axisLabel:{show:g===2, customValues:xMajorTicks, formatter:v => v.toFixed(3), fontSize:12.5, fontFamily:FONT, color:'#333', margin:9},
    splitLine:{show:false},
    name: g===2 ? 'Wavenumber [cm\u207B\u00B9]' : '', nameLocation:'middle', nameGap:29,
    nameTextStyle:{fontSize:12, fontFamily:FONT, color:'#333'}});
}
for (let g = 0; g < 3; g++) {
  yAxes.push({type:'value', gridIndex:g, min:yRanges[g][0], max:yRanges[g][1],
    axisLine:{show:false},
    axisTick:{show:true, customValues:yTicks[g], length:4, lineStyle:{color:'#333', width:1}},
    axisLabel:{customValues:yTicks[g], formatter:yFmt[g], fontSize:12.5, fontFamily:FONT, color:'#333', margin:9},
    splitLine:{show:false},
    name:yNames[g], nameLocation:'middle', nameGap:yNameGaps[g], nameRotate:90,
    nameTextStyle:{fontSize:11, fontFamily:FONT, color:'#333'}});
}

const gridStyle = {type:[1.5,2], color:'#b8b8b8', width:1};
const series = [];
for (let g = 0; g < 3; g++) {
  series.push({type:'line', xAxisIndex:g, yAxisIndex:g, data:[], z:1, silent:true,
    markLine:{silent:true, symbol:['none','none'], animation:false, label:{show:false}, lineStyle:gridStyle,
      data: xMajorTicks.map(v => ({xAxis:v})).concat(yTicks[g].map(v => ({yAxis:v})))}});
}
series.push({type:'line', name:'residual', xAxisIndex:0, yAxisIndex:0, data:residual, showSymbol:false, symbol:'none',
  lineStyle:{color:'#000', width:1.7}, z:2});
series.push({type:'line', name:'zero', xAxisIndex:0, yAxisIndex:0, data:zeroLine, showSymbol:false, symbol:'none',
  lineStyle:{color:'#ff2020', width:1.6, opacity:0.85}, z:3});
series.push({type:'line', name:'target', xAxisIndex:1, yAxisIndex:1, data:targetTrans, showSymbol:false, symbol:'none',
  lineStyle:{color:'#d62728', width:1.5}, z:2});
seriesNames.forEach((n, i) => {
  series.push({type:'line', name:n, xAxisIndex:2, yAxisIndex:2, data:specData[i], showSymbol:false, symbol:'none',
    itemStyle:{color:specColors[i]}, lineStyle:{color:specColors[i], width: (i===3 ? 2 : 1.7)}, z:2});
});

const option = {
  animation:false,
  backgroundColor:'#fff',
  grid: gridDefs,
  xAxis: xAxes,
  yAxis: yAxes,
  legend: {data:seriesNames, orient:'vertical', left:60, top:469, icon:'rect', itemWidth:26, itemHeight:2, itemGap:4.2,
    backgroundColor:'#fff', borderColor:'#333', borderWidth:1, borderRadius:3, padding:[3,8,3,6],
    textStyle:{fontSize:12, fontFamily:FONT, color:'#222', lineHeight:14, padding:[0,0,0,4]}, selectedMode:false},
  graphic: [
    {type:'text', x:372, y:232, style:{text:'Target transmittance', fontSize:29, fontFamily:'Noto Sans CJK JP', fill:'#ff1a1a', align:'left', verticalAlign:'middle'}},
    {type:'text', x:285, y:578, style:{text:'Strong HDO lines', fontSize:37.5, fontWeight:'bold', fontFamily:'Noto Sans CJK JP', fill:'#ff0000', align:'left', verticalAlign:'middle'}},
    {type:'text', x:1062, y:250, style:{text:'0.996', fontSize:46, fontFamily:'Noto Sans CJK JP', fill:'#111', align:'left', verticalAlign:'middle'}},
    {type:'text', x:13, y:690, style:{text:'1191.7', fontSize:47, fontFamily:'Noto Sans CJK JP', fill:'#111', align:'left', verticalAlign:'middle'}},
    {type:'text', x:1226, y:690, style:{text:'1195.2', fontSize:47, fontFamily:'Noto Sans CJK JP', fill:'#111', align:'right', verticalAlign:'middle'}},
    {type:'text', x:1211, y:315, rotation:Math.PI/2, style:{text:'Altitude [km]', fontSize:21, fontFamily:FONT, fill:'#555', align:'center', verticalAlign:'middle'}}
  ],
  series: series
};
const chart = echarts.init(document.getElementById('c'), null, {renderer:'canvas'});
chart.setOption(option);
</script></body></html>
